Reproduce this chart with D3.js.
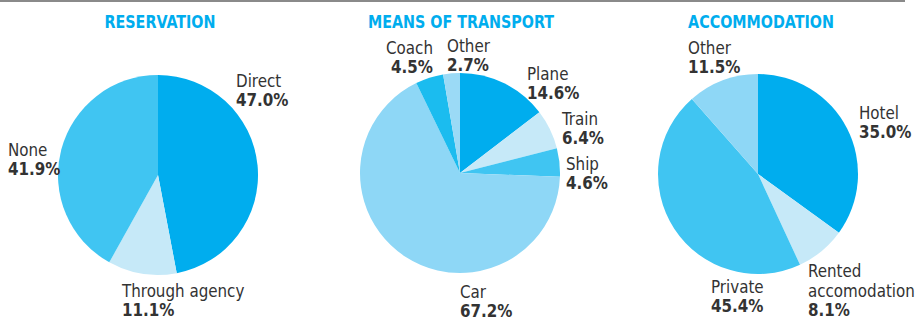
<!DOCTYPE html>
<html>
<head>
<meta charset="utf-8">
<script src="https://cdn.jsdelivr.net/npm/d3@7"></script>
<style>
  html, body { margin: 0; padding: 0; background: #fff; }
  svg { display: block; }
  text { font-family: "DejaVu Sans Condensed", "DejaVu Sans", sans-serif; }
</style>
</head>
<body>
<svg id="chart" width="921" height="322"></svg>
<script>
// Reservation
const reservationLabels = ["Direct", "Through agency", "None"];
const reservationValues = [47.0, 11.1, 41.9];
// Means of transport
const transportLabels = ["Plane", "Train", "Ship", "Car", "Coach", "Other"];
const transportValues = [14.6, 6.4, 4.6, 67.2, 4.5, 2.7];
// Accommodation
const accommodationLabels = ["Hotel", "Rented\naccomodation", "Private", "Other"];
const accommodationValues = [35.0, 8.1, 45.4, 11.5];

const titles = ["RESERVATION", "MEANS OF TRANSPORT", "ACCOMMODATION"];

const svg = d3.select("#chart");

// thin rule along the top
svg.append("rect").attr("x", 0).attr("y", 0).attr("width", 905).attr("height", 2).attr("fill", "#8a8a8a");

const panels = [
  {
    title: titles[0], cx: 158, cy: 175, r: 100, titleX: 160,
    labels: reservationLabels, values: reservationValues,
    colors: ["#00adee", "#c6e9f8", "#40c5f2"],
    pos: [
      { x: 236, y: 87, anchor: "start" },
      { x: 122, y: 297, anchor: "start" },
      { x: 8, y: 156, anchor: "start" }
    ]
  },
  {
    title: titles[1], cx: 460, cy: 173, r: 100, titleX: 461,
    labels: transportLabels, values: transportValues,
    colors: ["#00adee", "#c6e9f8", "#40c5f2", "#8ed7f6", "#1bbcef", "#9bdaf6"],
    pos: [
      { x: 527, y: 80, anchor: "start" },
      { x: 562, y: 125, anchor: "start" },
      { x: 566, y: 170, anchor: "start" },
      { x: 460, y: 298, anchor: "start" },
      { x: 433, y: 54, anchor: "end" },
      { x: 447, y: 52, anchor: "start" }
    ]
  },
  {
    title: titles[2], cx: 758, cy: 174, r: 100, titleX: 761,
    labels: accommodationLabels, values: accommodationValues,
    colors: ["#00adee", "#c6e9f8", "#40c5f2", "#8ed7f6"],
    pos: [
      { x: 859, y: 119, anchor: "start" },
      { x: 808, y: 277, anchor: "start" },
      { x: 711, y: 293, anchor: "start" },
      { x: 688, y: 54, anchor: "start" }
    ]
  }
];

const pie = d3.pie().sort(null).value(d => d);

panels.forEach(p => {
  const g = svg.append("g");

  // panel heading, narrowed slightly
  g.append("text")
    .attr("transform", `translate(${p.titleX},28) scale(0.91,1)`)
    .attr("text-anchor", "middle")
    .attr("font-size", 17.5).attr("font-weight", "bold")
    .attr("fill", "#00adee")
    .text(p.title);

  const arc = d3.arc().innerRadius(0).outerRadius(p.r);
  g.append("g")
    .attr("transform", `translate(${p.cx},${p.cy})`)
    .selectAll("path")
    .data(pie(p.values))
    .join("path")
    .attr("d", arc)
    .attr("fill", (d, i) => p.colors[i]);

  p.labels.forEach((lab, i) => {
    const pos = p.pos[i];
    const lines = lab.split("\n");
    const t = g.append("text")
      .attr("transform", `translate(${pos.x},${pos.y}) scale(0.96,1)`)
      .attr("text-anchor", pos.anchor)
      .attr("font-size", 17.5)
      .attr("fill", "#333333");
    lines.forEach((ln, k) => {
      t.append("tspan").attr("x", 0).attr("dy", k === 0 ? 0 : 20).text(ln);
    });
    t.append("tspan")
      .attr("x", 0).attr("dy", 19.5)
      .attr("font-weight", "bold")
      .text(d3.format(".1f")(p.values[i]) + "%");
  });
});
</script>
</body>
</html>
